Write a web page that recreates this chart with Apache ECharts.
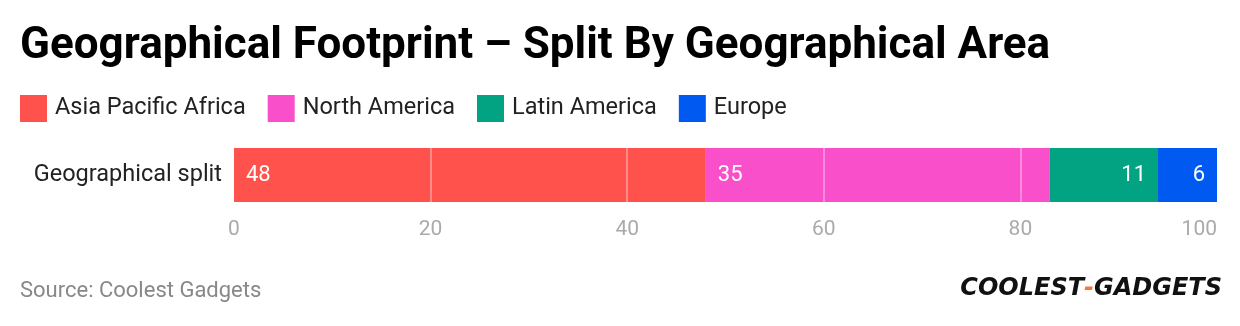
<!DOCTYPE html>
<html><head><meta charset="utf-8">
<script src="https://cdn.jsdelivr.net/npm/echarts@6/dist/echarts.min.js"></script>
<style>html,body{margin:0;padding:0;background:#fff}#c{width:1240px;height:326px}</style>
</head><body><div id="c"></div>
<script>
const categories = ["Geographical split"];
const seriesNames = ["Asia Pacific Africa", "North America", "Latin America", "Europe"];
const seriesValues = [[48], [35], [11], [6]];
const seriesColors = ["#ff524d", "#fa4fcb", "#02a383", "#0059f0"];
const labelPositions = ["insideLeft", "insideLeft", "insideRight", "insideRight"];
const xTicks = [0, 20, 40, 60, 80, 100];

const chart = echarts.init(document.getElementById('c'), null, {renderer: 'canvas'});
chart.setOption({
  animation: false,
  backgroundColor: '#fff',
  textStyle: {fontFamily: 'Roboto'},
  title: {
    text: 'Geographical Footprint – Split By Geographical Area',
    left: 15, top: 20,
    textStyle: {fontFamily: 'Roboto', fontWeight: 'bold', fontSize: 44, color: '#000'}
  },
  legend: {
    left: 15, top: 90,
    itemWidth: 27, itemHeight: 27, itemGap: 22,
    icon: 'rect',
    textStyle: {fontFamily: 'Roboto', fontSize: 23.5, color: '#222', padding: [0, 0, 0, 3]},
    data: seriesNames
  },
  grid: {left: 234, right: 23, top: 148, height: 54},
  xAxis: {
    type: 'value', min: 0, max: 100, interval: 20,
    z: 3,
    axisLine: {show: false}, axisTick: {show: false},
    splitLine: {show: true, showMinLine: false, showMaxLine: false, lineStyle: {color: 'rgba(255,255,255,0.45)', width: 1.5}},
    axisLabel: {color: '#aaa', fontSize: 21, margin: 17, alignMaxLabel: 'right',
      formatter: v => xTicks.includes(v) ? String(v) : ''}
  },
  yAxis: {
    type: 'category', data: categories,
    axisLine: {show: false}, axisTick: {show: false},
    axisLabel: {color: '#222', fontSize: 23.5, margin: 12}
  },
  series: seriesNames.map((n, i) => ({
    name: n, type: 'bar', stack: 'total',
    data: seriesValues[i],
    barWidth: 54,
    itemStyle: {color: seriesColors[i]},
    label: {show: true, position: labelPositions[i], distance: 12, color: '#fff', fontSize: 22}
  })),
  graphic: [
    {type: 'text', left: 20, top: 280,
     style: {text: 'Source: Coolest Gadgets', fill: '#888', font: '22px Roboto'}},
    {type: 'text', right: 18, top: 277,
     style: {
       text: '{a|COOLEST}{b|-}{a|GADGETS}',
       rich: {
         a: {fill: '#111', font: 'italic 900 24px "DejaVu Sans"'},
         b: {fill: '#f07a3a', font: 'italic 900 24px "DejaVu Sans"'}
       }
     }}
  ]
});
</script></body></html>
